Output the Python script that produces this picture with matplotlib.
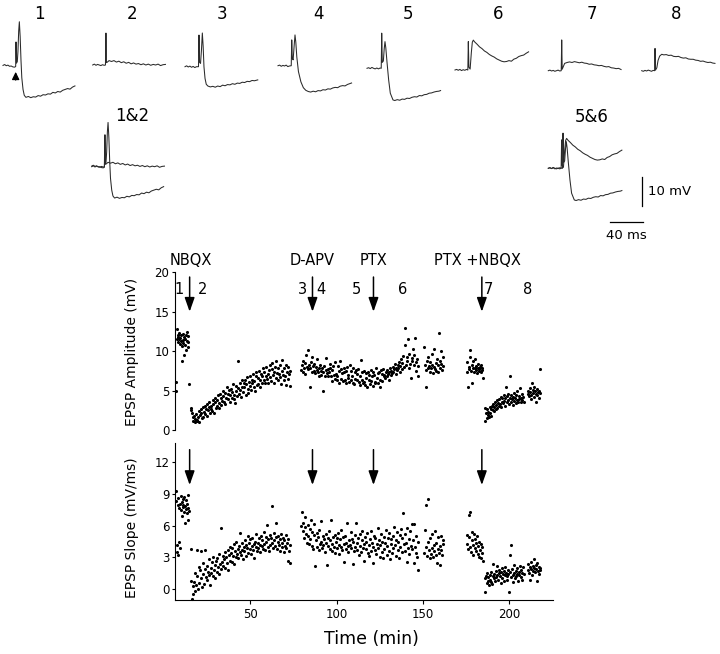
import numpy as np
import matplotlib
matplotlib.use("Agg")
import matplotlib.pyplot as plt

plt.rcParams['font.family'] = ['DejaVu Sans']

# ---- example sweeps (time in ms from sweep start, voltage in mV from baseline)
trace1 = [(0, 0.2), (2, 0.5), (4, 0.1), (6, 0.3), (8, -0.1), (10, 0.0), (12, -0.3), (14, -0.4),
          (15.5, -0.2), (15.9, 8.2), (16.5, 1.0), (17.5, 1.5), (18.3, 5.0), (19.2, 12.0), (20.0, 15.1),
          (21.0, 10.0), (22.0, 2.0), (23.0, -4.0), (24.5, -8.0), (26.0, -10.0), (28, -10.7), (31, -10.4),
          (34, -10.8), (37, -10.5), (40, -10.6), (43, -10.1), (46, -10.3), (49, -9.8), (52, -9.9),
          (55, -9.5), (58, -9.6), (61, -9.0), (64, -9.2), (67, -8.7), (70, -8.9), (73, -8.3), (76, -8.0),
          (79, -7.7), (82, -7.9), (85, -7.2), (88, -6.8)]
trace2 = [(0, 0.0), (2, 0.3), (4, -0.1), (6, 0.2), (8, 0.0), (10, -0.2), (12, 0.1), (14, -0.1),
          (15.6, 0.0), (16.2, 10.9), (16.8, 0.8), (18, 1.0), (20, 1.5), (23, 1.2), (26, 1.5), (29, 1.0),
          (32, 1.3), (35, 0.8), (38, 1.1), (41, 0.6), (44, 0.9), (47, 0.4), (50, 0.7), (53, 0.3),
          (56, 0.5), (59, 0.1), (62, 0.4), (65, 0.0), (68, 0.3), (71, -0.1), (74, 0.2), (77, 0.0),
          (80, 0.3), (83, -0.2), (86, 0.1), (89, 0.2)]
trace3 = [(0, 0.0), (2, 0.3), (4, -0.1), (6, 0.2), (8, -0.2), (10, 0.1), (12, -0.3), (14, 0.0),
          (16.5, 0.0), (17.1, 10.8), (17.8, 1.5), (19.0, 1.1), (20.2, 6.0), (21.2, 11.5), (22.2, 7.0),
          (23.2, 0.0), (24.5, -4.0), (26, -6.0), (28, -6.6), (31, -6.9), (34, -6.7), (37, -7.0),
          (40, -6.6), (43, -6.8), (46, -6.3), (49, -6.5), (52, -6.1), (55, -6.2), (58, -5.8), (61, -6.0),
          (64, -5.6), (67, -5.7), (70, -5.3), (73, -5.4), (76, -5.0), (79, -5.1), (82, -4.7), (85, -4.8),
          (89, -4.5)]
trace4 = [(0, 0.0), (2, 0.2), (4, -0.2), (6, 0.1), (8, -0.1), (10, 0.2), (12, -0.3), (14, -0.1),
          (16.2, 0.0), (16.8, 8.8), (17.5, 2.5), (18.5, 2.0), (19.8, 7.0), (20.8, 10.5), (21.8, 8.0),
          (23, 3.0), (25, -2.0), (28, -5.5), (31, -7.5), (34, -8.4), (37, -8.8), (40, -9.0), (43, -8.7),
          (46, -8.9), (49, -8.5), (52, -8.6), (55, -8.2), (58, -8.3), (61, -7.9), (64, -8.0), (67, -7.6),
          (70, -7.4), (73, -7.5), (76, -7.0), (79, -6.8), (82, -6.9), (85, -6.4), (88, -6.1), (90, -5.9)]
trace5 = [(0, 0.0), (2, 0.2), (4, -0.1), (6, 0.3), (8, 0.0), (10, -0.2), (12, 0.1), (14, -0.2),
          (16, 0.1), (17.4, 0.0), (18.0, 12.0), (18.7, 2.0), (20, 2.5), (21, 6.5), (22, 9.1), (23, 7.0),
          (24.5, 2.0), (26.5, -4.0), (28.5, -8.5), (31.8, -10.8), (34, -11.0), (37, -10.7), (40, -10.9),
          (43, -10.5), (46, -10.6), (49, -10.2), (52, -10.3), (55, -9.9), (58, -9.7), (61, -9.8),
          (64, -9.3), (67, -9.4), (70, -9.0), (73, -8.9), (76, -8.5), (79, -8.4), (82, -8.1), (85, -7.9),
          (88, -7.8), (90, -7.6)]
trace6 = [(0, 0.0), (2, 0.2), (4, -0.1), (6, 0.2), (8, -0.2), (10, 0.1), (12, -0.1), (14, 0.2),
          (15.7, 0.0), (16.3, 9.7), (17, 1.0), (18.5, 0.3), (20, 6.0), (21.2, 9.5), (22.4, 10.2),
          (24, 9.6), (27, 8.8), (30, 7.9), (33, 7.3), (36, 6.5), (39, 6.0), (42, 5.3), (45, 4.8),
          (48, 4.4), (51, 3.8), (54, 3.4), (57, 3.0), (60, 2.8), (63, 2.9), (66, 3.2), (69, 3.0),
          (72, 3.7), (75, 4.0), (78, 4.6), (81, 4.9), (84, 5.1), (87, 5.7), (90, 6.2)]
trace7 = [(0, 0.0), (2, 0.2), (4, -0.1), (6, 0.1), (8, -0.2), (10, 0.0), (12, 0.2), (14, -0.1),
          (15.8, 0.0), (16.4, 10.5), (17, 0.5), (18.5, 1.5), (20, 2.5), (23, 2.8), (26, 3.0), (29, 2.8),
          (32, 3.1), (35, 2.9), (38, 2.7), (41, 2.9), (44, 2.6), (47, 2.5), (50, 2.2), (53, 2.3),
          (56, 2.0), (59, 1.9), (62, 1.7), (65, 1.8), (68, 1.5), (71, 1.3), (74, 1.4), (77, 1.0),
          (80, 0.9), (83, 0.7), (86, 0.8), (89, 0.4)]
trace8 = [(0, 0.0), (2, -0.2), (4, 0.1), (6, -0.1), (8, 0.2), (10, 0.0), (12, -0.2), (14, 0.1),
          (15.8, 0.0), (16.3, 7.6), (16.9, 0.2), (18.5, 1.0), (20, 3.5), (22, 5.0), (24.5, 5.6),
          (27, 5.4), (30, 5.5), (33, 5.2), (36, 5.3), (39, 4.9), (42, 4.8), (45, 4.9), (48, 4.5),
          (51, 4.3), (54, 4.4), (57, 4.0), (60, 3.9), (63, 3.9), (66, 3.6), (69, 3.5), (72, 3.2),
          (75, 3.3), (78, 3.0), (81, 2.8), (84, 2.9), (87, 2.6), (89.6, 2.5)]

# ---- time course: sweeps are evenly spaced within each recording block (min)
block_times = [(6.6, 14.3), (15.3, 73.2), (79.5, 147.5), (151.0, 162.0),
               (175.5, 185.0), (186.0, 208.5), (211.0, 218.3)]

amp_control = [6.1, 5.0, 12.8, 11.6, 12.0, 11.2, 11.8, 12.3, 11.5, 10.9, 11.7, 11.3, 12.1, 10.6, 8.8,
               11.4, 12.2, 11.0, 9.5, 11.8, 10.8, 11.5, 12.0, 10.2, 11.3, 12.4, 11.1, 10.5, 11.9, 5.8]
amp_nbqx = [2.8, 2.5, 2.2, 1.6, 1.2, 1.8, 1.0, 1.4, 2.0, 1.1, 1.3, 1.6, 2.4, 1.0, 1.9, 2.6, 2.2, 1.5, 2.9, 1.7,
            2.3, 2.0, 3.0, 2.7, 1.8, 3.3, 2.5, 2.9, 3.5, 2.2, 3.1, 2.6, 2.4, 3.8, 3.3, 2.1, 3.6, 4.0, 2.8, 3.0,
            3.8, 4.4, 2.8, 3.4, 4.6, 4.0, 3.2, 3.7, 5.0, 4.3, 3.6, 4.7, 3.3, 4.1, 5.4, 4.6, 3.9, 5.1, 4.4, 3.5,
            5.2, 4.1, 4.8, 5.8, 3.9, 4.5, 3.4, 5.6, 5.0, 4.3, 5.3, 8.8, 4.6, 5.9, 5.1, 4.2, 6.3, 5.5, 4.8, 6.0,
            5.4, 6.3, 4.5, 5.8, 6.7, 5.2, 4.7, 6.1, 5.6, 6.9, 5.1, 6.4, 5.9, 7.1, 5.5, 6.2, 5.0, 6.8, 7.3, 5.7,
            6.6, 5.8, 7.5, 6.3, 5.5, 7.1, 6.9, 6.0, 7.8, 6.4, 7.3, 5.9, 6.8, 8.0, 6.5, 7.1, 6.0, 7.6, 8.2, 6.7,
            6.2, 7.7, 8.5, 7.0, 5.9, 7.4, 8.0, 6.6, 8.8, 7.2, 6.4, 7.8, 7.1, 8.3, 6.7, 5.8, 7.5, 8.9, 7.0, 6.3,
            7.8, 6.9, 5.7, 8.2, 7.3, 6.5, 8.0, 7.1, 5.6, 7.5]
amp_apv = [7.6, 8.2, 7.3, 8.8, 7.9, 8.5, 7.1, 9.5, 8.0, 7.7, 10.2, 8.3, 5.5, 7.8, 8.6, 7.4, 9.2, 8.1, 7.5, 8.4,
           7.2, 8.0, 7.6, 9.0, 7.3, 7.9, 6.8, 8.2, 7.5, 7.0, 7.8, 5.0, 7.4, 8.1, 6.9, 7.6, 9.1, 7.2, 7.7, 6.8,
           7.3, 8.4, 7.8, 6.8, 6.2, 7.6, 8.1, 7.0, 6.5, 8.6, 7.1, 6.3, 6.9, 8.1, 7.5, 6.0, 8.8, 7.7, 6.5, 7.2,
           6.2, 7.8, 7.3, 6.4, 5.9, 7.5, 8.0, 6.6, 7.0, 6.1, 8.2, 6.4, 7.5, 6.9, 6.0, 7.9, 5.8, 6.5, 7.3, 7.6,
           6.3, 7.1, 7.7, 6.1, 5.7, 6.8, 8.9, 7.4, 6.4, 6.0, 7.5, 6.1, 5.7, 7.2, 6.6, 5.5, 7.4, 7.0, 6.3, 5.8,
           7.6, 6.2, 6.8, 5.6, 7.4, 7.0, 6.1, 5.9, 7.8, 6.6, 6.0, 7.2, 7.3, 5.5, 6.4, 7.6, 7.1, 6.2, 7.7, 6.8,
           7.0, 6.6, 7.3, 6.9, 7.6, 7.1, 6.4, 7.4, 7.8, 7.0, 7.5, 7.2, 8.0, 7.3, 7.7, 8.4, 7.1, 7.9, 7.6, 8.2,
           7.8, 8.6, 7.4, 8.1, 9.0, 7.7, 8.5, 9.4, 8.0, 10.8, 12.9, 8.3, 9.2, 8.7, 11.5, 7.9, 9.6, 8.4, 6.6, 9.1,
           8.8, 10.3, 8.2, 9.5, 11.7, 8.6, 7.5, 9.0, 8.1, 6.8]
amp_apv_late = [10.5, 8.2, 7.6, 5.5, 8.8, 7.9, 9.3, 8.1, 7.4, 8.6, 7.8, 9.6, 8.3, 7.2, 8.0,
                10.3, 7.7, 8.5, 7.5, 9.0, 8.2, 7.3, 12.3, 8.7, 7.9, 10.0, 8.4, 7.6, 9.2, 8.1]
amp_ptx = [8.6, 7.4, 5.5, 8.0, 7.7, 9.2, 10.2, 7.5, 8.3, 6.0, 7.9, 8.8, 7.3, 7.8, 9.0, 7.6, 8.1, 7.2, 7.9,
           8.4, 7.5, 7.7, 8.0, 7.4, 8.2, 7.6, 7.9, 6.6]
amp_ptx_nbqx = [2.8, 1.2, 2.1, 1.5, 2.6, 1.9, 2.3, 1.6, 2.9, 2.2, 2.7, 1.8, 3.1, 2.5, 3.3, 2.4, 2.9, 3.5, 2.6,
                3.2, 3.8, 2.8, 3.4, 3.0, 3.9, 3.3, 4.2, 2.9, 3.6, 4.0, 3.4, 4.4, 3.7, 3.1, 4.1, 5.5, 3.6, 4.3,
                3.8, 4.6, 3.3, 6.8, 4.0, 3.5, 4.5, 3.9, 4.2, 3.2, 4.7, 3.7, 4.1, 3.4, 4.4, 3.8, 4.9, 3.6, 4.3,
                3.9, 5.3, 4.0, 3.5, 4.6, 3.8, 4.2, 3.6]
amp_ptx_nbqx_late = [4.6, 5.0, 4.3, 5.3, 4.8, 3.9, 4.5, 6.0, 5.1, 4.7, 4.2, 5.4, 4.9, 3.6, 4.6, 5.2, 4.4,
                     4.8, 5.0, 4.1, 4.7, 7.7]

slope_control = [8.3, 9.3, 3.5, 4.2, 8.0, 3.2, 8.6, 4.5, 7.7, 8.1, 3.9, 8.8, 7.5, 8.2, 6.9, 8.5, 7.8, 8.0,
                 7.3, 8.7, 6.3, 7.9, 8.4, 7.6, 8.1, 7.2, 8.9, 7.7, 6.5, 7.4]
slope_nbqx = [3.8, 0.8, -0.9, 0.3, -0.5, 0.7, 1.5, -0.2, 0.4, 3.7, 1.2, 0.0, 2.1, 0.6, 1.8, 3.6, 1.0, 0.2, 2.5, 1.4,
              0.5, 1.9, 3.7, 1.1, 2.2, 0.9, 1.6, 2.8, 1.3, 0.4, 2.0, 1.5, 2.6, 1.2, 3.0, 1.8, 2.3, 1.0, 2.7, 1.6,
              2.9, 2.1, 1.4, 3.3, 2.4, 5.8, 1.9, 2.6, 3.1, 2.2, 2.8, 3.5, 2.0, 3.0, 2.5, 3.7, 1.8, 3.2, 2.7, 4.0,
              3.4, 2.6, 3.9, 3.1, 4.3, 2.4, 3.6, 3.0, 4.5, 3.3, 3.8, 2.9, 4.1, 3.5, 5.3, 3.2, 4.4, 3.7, 2.8, 4.0,
              3.6, 4.6, 3.1, 4.2, 3.9, 5.0, 3.4, 4.4, 3.8, 4.7, 3.3, 4.1, 4.8, 3.7, 4.3, 2.9, 4.5, 4.0, 5.2, 3.6,
              4.4, 3.9, 4.8, 4.2, 3.5, 5.0, 4.1, 4.6, 3.8, 5.4, 4.3, 3.7, 4.9, 4.5, 6.1, 4.0, 4.7, 3.6, 5.1, 4.2,
              4.8, 4.4, 7.9, 3.9, 5.3, 4.6, 4.1, 6.3, 4.9, 3.8, 4.5, 5.0, 4.2, 4.7, 3.6, 5.2, 4.4, 4.0, 4.8, 3.5,
              4.6, 4.1, 5.1, 3.9, 4.4, 2.7, 4.7, 3.6, 2.5, 4.2]
slope_apv = [6.0, 7.3, 5.5, 6.3, 4.8, 5.9, 6.8, 5.2, 4.4, 6.1, 5.0, 4.3, 5.7, 4.7, 6.5, 4.1, 5.4, 3.8, 5.1, 6.2,
             2.2, 4.6, 5.3, 4.0, 4.9, 3.7, 5.6, 4.3, 6.4, 4.5, 3.9, 5.0, 4.2, 4.7, 3.5, 5.2, 4.4, 2.3, 4.8, 4.1,
             5.5, 3.8, 4.6, 6.5, 4.3, 3.6, 4.9, 4.0, 5.1, 3.4, 4.5, 4.8, 3.9, 5.3, 4.2, 3.3, 4.7, 5.6, 4.0, 3.7,
             4.9, 4.3, 2.6, 5.0, 4.4, 3.8, 6.3, 4.1, 3.5, 4.6, 4.2, 5.4, 3.9, 4.7, 2.4, 4.5, 3.6, 5.1, 4.0, 6.3,
             4.4, 3.7, 4.8, 3.2, 5.2, 4.1, 3.5, 4.6, 5.5, 3.9, 4.3, 2.7, 4.9, 3.8, 4.5, 5.3, 3.4, 4.2, 3.1, 4.7,
             5.5, 3.6, 4.4, 2.5, 4.0, 5.0, 3.7, 4.8, 3.3, 4.3, 5.8, 3.9, 4.6, 3.0, 4.2, 5.2, 3.5, 4.5, 2.9, 4.9,
             3.8, 4.4, 5.6, 3.2, 4.1, 4.8, 3.6, 5.3, 2.8, 4.3, 4.7, 3.4, 5.0, 3.9, 5.9, 4.2, 3.1, 4.6, 5.4, 3.7,
             4.5, 2.9, 5.1, 4.0, 5.7, 3.5, 4.8, 7.2, 4.3, 3.6, 5.2, 4.4, 2.6, 5.8, 3.9, 4.7, 3.3, 5.5, 4.1, 6.2,
             3.8, 4.6, 2.5, 6.2, 4.0, 3.4, 5.0, 3.0, 4.5, 1.8]
slope_apv_late = [3.4, 5.6, 4.0, 8.0, 3.1, 8.5, 4.5, 3.7, 2.9, 4.8, 3.3, 5.2, 3.9, 3.0, 4.2,
                  3.6, 5.5, 3.2, 4.4, 2.5, 3.8, 4.9, 3.4, 2.3, 4.1, 3.7, 5.0, 3.2, 4.6, 4.3]
slope_ptx = [5.1, 4.3, 3.8, 4.9, 7.0, 7.3, 4.0, 3.5, 5.4, 4.6, 3.2, 4.2, 5.2, 3.9, 4.7, 3.6, 4.4, 5.0, 3.3,
             4.1, 3.0, 4.5, 3.7, 2.9, 4.3, 3.4, 4.0, 2.7]
slope_ptx_nbqx = [1.0, -0.3, 1.2, 0.6, 1.5, 0.8, 1.1, 0.4, 1.3, 0.9, 0.7, 1.6, 0.5, 1.2, 2.4, 1.0, 1.4, 0.8,
                  1.7, 1.1, 2.2, 1.3, 0.9, 1.5, 1.8, 1.2, 0.6, 1.6, 1.0, 2.0, 1.4, 0.8, 1.7, 1.3, 2.1, 1.5,
                  0.9, 1.2, 1.8, 1.4, -0.3, 3.2, 1.6, 4.2, 1.1, 1.9, 1.3, 0.7, 1.5, 2.3, 1.0, 1.7, 1.2, 2.0,
                  1.4, 0.8, 1.6, 1.3, 2.2, 1.1, 1.8, 1.5, 0.9, 2.1, 1.4]
slope_ptx_nbqx_late = [1.8, 2.4, 1.5, 2.1, 0.9, 2.6, 1.9, 1.3, 2.2, 1.7, 2.8, 2.0, 1.6, 2.3, 1.9, 0.8,
                       2.5, 1.7, 2.1, 1.4, 2.0, 1.8]

# drug application times (min) and labels
drug_times = [14.7, 86.0, 121.4, 184.3]
drug_labels = ['NBQX', 'D-APV', 'PTX', 'PTX +NBQX']
drug_label_x = [15.3, 85.7, 121.2, 182.0]
sweep_marks = ['1', '2', '3', '4', '5', '6', '7', '8']
sweep_mark_x = [8.3, 22.2, 80.1, 90.9, 111.8, 138.4, 188.4, 210.8]

W, H = 720, 654
MS_PER_PX = 40 / 32.7   # from the 40 ms scale bar
MV_PER_PX = 10 / 29.3   # from the 10 mV scale bar


def trace_axes(fig, x0, y0):
    # x0, y0: pixel spot where the sweep starts (at baseline)
    xlim = (-5, 130)
    ylim = (-25, 20)
    w = (xlim[1] - xlim[0]) / MS_PER_PX
    h = (ylim[1] - ylim[0]) / MV_PER_PX
    left = x0 + xlim[0] / MS_PER_PX
    top = y0 - ylim[1] / MV_PER_PX
    ax = fig.add_axes([left / W, 1 - (top + h) / H, w / W, h / H])
    ax.set_xlim(xlim)
    ax.set_ylim(ylim)
    ax.axis('off')
    return ax


def draw_trace(ax, trace):
    t, v = np.array(trace).T
    ax.plot(t, v, color='#2a2a2a', lw=0.75, clip_on=False)


def main():
    fig = plt.figure(figsize=(W / 100, H / 100), dpi=100)

    # single sweeps
    traces = [trace1, trace2, trace3, trace4, trace5, trace6, trace7, trace8]
    starts = [(3, 66), (92.7, 65), (185, 66.7), (278, 65.7), (367, 68.3),
              (455, 70), (548.3, 70.7), (641.7, 70.7)]
    label_x = [39, 131.7, 222, 318, 408, 498, 591.7, 676]
    for tr, (x0, y0), lx, name in zip(traces, starts, label_x, sweep_marks):
        ax = trace_axes(fig, x0, y0)
        draw_trace(ax, tr)
        fig.text(lx / W, 1 - 14 / H, name, ha='center', va='center', fontsize=12)
        if name == '1':
            # stimulus arrow
            ax.annotate('', xy=(15.5, -2.0), xytext=(15.5, -4.8),
                        arrowprops=dict(arrowstyle='-|>,head_length=0.45,head_width=0.22',
                                        lw=0.9, color='black', shrinkA=0, shrinkB=0))

    # overlays
    ax12 = trace_axes(fig, 91.7, 166.7)
    draw_trace(ax12, trace2)
    draw_trace(ax12, trace1)
    fig.text(131.7 / W, 1 - 116 / H, '1&2', ha='center', va='center', fontsize=12)

    ax56 = trace_axes(fig, 548.3, 168.3)
    draw_trace(ax56, trace5)
    draw_trace(ax56, trace6)
    fig.text(592 / W, 1 - 117 / H, '5&6', ha='center', va='center', fontsize=12)

    # scale bars: 10 mV, 40 ms
    ax56.plot([115, 115], [-2.9, -12.9], color='black', lw=0.9, clip_on=False)
    ax56.plot([75.5, 115.5], [-18.2, -18.2], color='black', lw=0.9, clip_on=False)
    ax56.text(121.5, -8.0, '10 mV', ha='left', va='center', fontsize=9.5, clip_on=False)
    ax56.text(95.5, -22.8, '40 ms', ha='center', va='center', fontsize=9.5, clip_on=False)

    # ---- time course panels
    left = 175 / W
    width = (553 - 175) / W
    ax1 = fig.add_axes([left, 1 - 430 / H, width, (430 - 272.3) / H])
    ax2 = fig.add_axes([left, 1 - 600 / H, width, (600 - 442.7) / H])

    amp_blocks = [amp_control, amp_nbqx, amp_apv, amp_apv_late, amp_ptx, amp_ptx_nbqx, amp_ptx_nbqx_late]
    slope_blocks = [slope_control, slope_nbqx, slope_apv, slope_apv_late, slope_ptx, slope_ptx_nbqx,
                    slope_ptx_nbqx_late]
    for (t0, t1), amp, slope in zip(block_times, amp_blocks, slope_blocks):
        ta = np.linspace(t0, t1, len(amp))
        ts = np.linspace(t0, t1, len(slope))
        ax1.scatter(ta, amp, s=5, color='black', linewidths=0, clip_on=False)
        ax2.scatter(ts, slope, s=5, color='black', linewidths=0, clip_on=False)

    xlim = (6.2, 225.6)
    for ax in (ax1, ax2):
        ax.set_xlim(xlim)
        ax.spines['top'].set_visible(False)
        ax.spines['right'].set_visible(False)
        ax.spines['left'].set_linewidth(0.8)
        ax.spines['bottom'].set_linewidth(0.8)
        ax.tick_params(direction='out', length=2.5, width=0.8, labelsize=8.5, pad=1.5)
        ax.patch.set_visible(False)

    ax1.set_ylim(0, 20)
    ax1.set_yticks([0, 5, 10, 15, 20])
    ax1.spines['bottom'].set_visible(False)
    ax1.set_xticks([])

    ax2.set_ylim(-1.04, 13.86)
    ax2.set_yticks([0, 3, 6, 9, 12])
    ax2.set_xticks([50, 100, 150, 200])
    ax2.tick_params(axis='x', length=3, pad=3)

    arrow = dict(arrowstyle='-|>,head_length=0.85,head_width=0.3', lw=1.1, color='black',
                 shrinkA=0, shrinkB=0)
    for t in drug_times:
        ax1.annotate('', xy=(t, 15.0), xytext=(t, 19.4), arrowprops=arrow, annotation_clip=False)
        ax2.annotate('', xy=(t, 9.85), xytext=(t, 13.2), arrowprops=arrow, annotation_clip=False)

    for x, name in zip(drug_label_x, drug_labels):
        ax1.text(x, 21.5, name, ha='center', va='center', fontsize=10.5, clip_on=False)
    for x, name in zip(sweep_mark_x, sweep_marks):
        ax1.text(x, 17.8, name, ha='center', va='center', fontsize=10.5, clip_on=False)

    fig.text(132 / W, 1 - 352 / H, 'EPSP Amplitude (mV)', rotation=90, ha='center', va='center',
             fontsize=10)
    fig.text(132 / W, 1 - 528 / H, 'EPSP Slope (mV/ms)', rotation=90, ha='center', va='center',
             fontsize=10)
    fig.text(371 / W, 1 - 639 / H, 'Time (min)', ha='center', va='center', fontsize=12.5)

    fig.savefig('out.png', dpi=100)


if __name__ == "__main__":
    main()
